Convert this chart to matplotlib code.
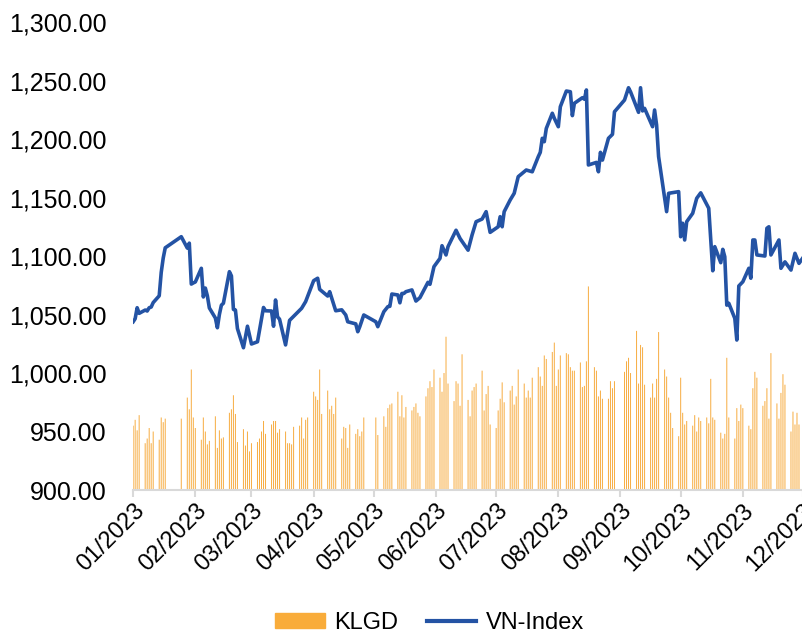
import pandas as pd
import matplotlib
matplotlib.use('Agg')
import matplotlib.pyplot as plt
import matplotlib.dates as mdates
from matplotlib.patches import Patch
from matplotlib.lines import Line2D
from matplotlib.ticker import FuncFormatter

plt.rcParams['font.family'] = ['Liberation Sans', 'DejaVu Sans']

# VN-Index closing values
line_dates = ['01-03', '01-04', '01-05', '01-06', '01-09', '01-10', '01-11', '01-12', '01-13', '01-16',
              '01-17', '01-18', '01-19', '01-27', '01-30', '01-31', '02-01', '02-02', '02-03', '02-06',
              '02-07', '02-08', '02-09', '02-10', '02-13', '02-14', '02-15', '02-16', '02-17', '02-20',
              '02-21', '02-22', '02-23', '02-24', '02-27', '03-01', '03-03', '03-06', '03-09', '03-10',
              '03-13', '03-14', '03-15', '03-16', '03-17', '03-20', '03-22', '03-28', '03-30', '04-03',
              '04-05', '04-06', '04-10', '04-11', '04-14', '04-17', '04-19', '04-20', '04-24', '04-25',
              '04-26', '04-28', '05-04', '05-05', '05-08', '05-10', '05-11', '05-12', '05-15', '05-16',
              '05-17', '05-18', '05-19', '05-22', '05-24', '05-26', '05-30', '05-31', '06-02', '06-05',
              '06-06', '06-08', '06-09', '06-13', '06-15', '06-19', '06-21', '06-23', '06-26', '06-28',
              '06-30', '07-04', '07-05', '07-06', '07-07', '07-10', '07-12', '07-14', '07-18', '07-21',
              '07-24', '07-25', '07-26', '07-27', '07-28', '07-31', '08-01', '08-03', '08-04', '08-07',
              '08-09', '08-10', '08-11', '08-15', '08-16', '08-17', '08-18', '08-22', '08-23', '08-24',
              '08-25', '08-28', '08-30', '08-31', '09-05', '09-07', '09-08', '09-12', '09-13', '09-14',
              '09-15', '09-19', '09-20', '09-21', '09-22', '09-26', '09-27', '10-02', '10-03', '10-04',
              '10-05', '10-06', '10-09', '10-11', '10-13', '10-17', '10-19', '10-20', '10-23', '10-24',
              '10-25', '10-26', '10-27', '10-30', '10-31', '11-01', '11-03', '11-06', '11-07', '11-08',
              '11-09', '11-10', '11-14', '11-15', '11-16', '11-17', '11-21', '11-22', '11-24', '11-27',
              '11-29', '12-01', '12-04', '12-05']
vnindex = [1043.8, 1046.4, 1055.8, 1051.0, 1053.8, 1053.0, 1055.8, 1056.4, 1060.2, 1066.0,
           1086.0, 1098.3, 1107.0, 1116.5, 1106.8, 1111.0, 1076.0, 1077.0, 1077.8, 1089.5,
           1065.0, 1072.6, 1066.0, 1055.6, 1047.0, 1038.7, 1050.0, 1058.0, 1059.6, 1086.6,
           1083.0, 1054.4, 1053.8, 1038.0, 1021.6, 1040.0, 1024.8, 1026.7, 1056.0, 1053.2,
           1053.0, 1040.0, 1062.4, 1048.0, 1046.0, 1024.0, 1045.0, 1055.3, 1061.0, 1078.9,
           1081.0, 1071.5, 1065.8, 1069.5, 1053.2, 1054.0, 1049.6, 1043.8, 1042.0, 1035.3,
           1039.6, 1049.6, 1043.8, 1039.6, 1052.4, 1056.7, 1057.0, 1067.5, 1066.7, 1060.0,
           1068.0, 1068.0, 1069.5, 1071.0, 1061.5, 1064.4, 1077.5, 1075.8, 1090.9, 1098.0,
           1108.8, 1100.9, 1108.0, 1122.0, 1115.0, 1105.0, 1118.0, 1129.3, 1131.6, 1137.9,
           1120.2, 1125.0, 1133.6, 1125.0, 1137.9, 1147.9, 1153.6, 1167.8, 1173.5, 1172.0,
           1184.9, 1188.6, 1200.6, 1197.7, 1209.0, 1222.0, 1217.7, 1210.5, 1227.6, 1241.0,
           1240.4, 1220.0, 1230.5, 1235.3, 1234.0, 1241.9, 1177.8, 1180.0, 1172.0, 1188.6,
           1182.0, 1200.6, 1204.0, 1223.3, 1233.3, 1243.8, 1240.4, 1222.8, 1243.8, 1224.0,
           1226.2, 1210.5, 1224.8, 1212.0, 1185.0, 1137.9, 1153.6, 1155.0, 1116.5, 1128.0,
           1113.7, 1129.3, 1136.5, 1149.3, 1154.0, 1140.8, 1087.4, 1108.0, 1094.3, 1105.7,
           1099.4, 1058.0, 1059.6, 1046.7, 1028.2, 1074.4, 1078.0, 1089.5, 1081.0, 1113.7,
           1113.7, 1100.9, 1100.0, 1123.7, 1125.0, 1100.9, 1113.7, 1089.5, 1095.0, 1088.0,
           1102.3, 1093.7, 1101.0, 1108.0]

# KLGD - trading volume (million shares), one per trading day 03/01 -> 01/12
holidays = ['2023-01-20', '2023-01-23', '2023-01-24', '2023-01-25', '2023-01-26',
            '2023-05-01', '2023-05-02', '2023-05-03', '2023-09-01', '2023-09-04']
klgd = [550, 600, 510, 640, 400, 440, 530, 400, 500, 430, 620, 580, 610,
        610, 790, 690,
        1030, 620, 530, 430, 620, 500, 390, 420, 630, 360, 510, 440, 450, 660, 690, 810, 650, 410, 520, 380,
        500, 330, 400, 410, 440, 500, 590, 480, 560, 590, 590, 490, 520, 500, 400, 400, 390, 540, 550, 620,
        440, 600, 620,
        840, 800, 770, 1030, 650, 850, 690, 720, 650, 790, 440, 540, 530, 360, 560, 480, 520, 460, 500, 620,
        620, 470, 630, 540, 700, 730, 740, 840, 630, 810, 620, 710, 680, 710, 740, 660, 630, 800, 870, 930,
        880, 1030, 960, 840, 1000, 1310, 910, 760, 930, 910, 720, 1160, 770, 630, 850, 880, 910, 1020, 680,
        820, 890, 560,
        530, 680, 780, 920, 750, 850, 890, 730, 800, 1030, 910, 790, 850, 790, 960, 1050, 970, 890, 1150,
        1120, 1180,
        1260, 890, 1030, 1150, 1170, 1160, 1050, 1020, 1020, 1090, 880, 890, 1100, 1740, 1050, 1020, 800,
        850, 780, 780, 930, 870, 930,
        1010, 1100, 1130, 1000, 1360, 910, 1240, 1220, 900, 790, 910, 790, 950, 1350, 1030, 970, 790, 660, 530,
        460, 960, 660, 560, 590, 550, 640, 500, 620, 590, 620, 570, 950, 620, 600, 490, 440, 480, 1130, 620,
        440, 700,
        590, 730, 700, 550, 520, 870, 1010, 960, 720, 760, 870, 610, 1170, 740, 610, 830, 990, 900, 500, 670,
        560, 660,
        560]

line_x = pd.to_datetime(['2023-' + d for d in line_dates])
bar_x = pd.bdate_range('2023-01-03', '2023-12-01')
bar_x = bar_x[~bar_x.isin(pd.to_datetime(holidays))]

fig = plt.figure(figsize=(8.03, 6.34), dpi=100)
ax = fig.add_axes([0.1656, 0.2271, 0.8344, 0.7382])
ax2 = ax.twinx()

bars = ax2.bar(bar_x, klgd, width=0.5, color='#F7AE45', linewidth=0)
for b in bars:
    b.set_snap(False)
ax2.set_ylim(0, 4000)
ax2.set_yticks([])
for s in ax2.spines.values():
    s.set_visible(False)

ax.plot(line_x, vnindex, color='#2453A4', lw=2.6, solid_joinstyle='round')
ax.set_zorder(ax2.get_zorder() + 1)
ax.patch.set_visible(False)

ax.set_ylim(900, 1300)
ax.set_yticks(range(900, 1301, 50))
ax.yaxis.set_major_formatter(FuncFormatter(lambda v, p: '{:,.2f}'.format(v)))
ax.set_xlim(pd.Timestamp('2023-01-02 22:00'), pd.Timestamp('2023-12-03'))
ax.set_xticks(pd.date_range('2023-01-01', '2023-12-01', freq='MS') + pd.Timedelta(days=2))
ax.xaxis.set_major_formatter(mdates.DateFormatter('%m/%Y'))

for side in ['top', 'right', 'left']:
    ax.spines[side].set_visible(False)
ax.spines['bottom'].set_color('#D9D9D9')
ax.spines['bottom'].set_linewidth(1.5)
ax.tick_params(axis='y', length=0, labelsize=18, pad=19)
ax.tick_params(axis='x', length=5, color='#D9D9D9', width=1.5, labelsize=17, pad=2)
for lbl in ax.get_xticklabels():
    lbl.set_rotation(45)
    lbl.set_ha('right')
    lbl.set_rotation_mode('anchor')

handles = [Patch(color='#F9AC3A'), Line2D([], [], color='#2453A4', lw=3)]
fig.legend(handles, ['KLGD', 'VN-Index'], loc='center', bbox_to_anchor=(0.535, 0.018),
           ncol=2, frameon=False, fontsize=17, handlelength=2.1, handleheight=0.6,
           columnspacing=1.2, handletextpad=0.4)

fig.savefig('out.png', dpi=100)
